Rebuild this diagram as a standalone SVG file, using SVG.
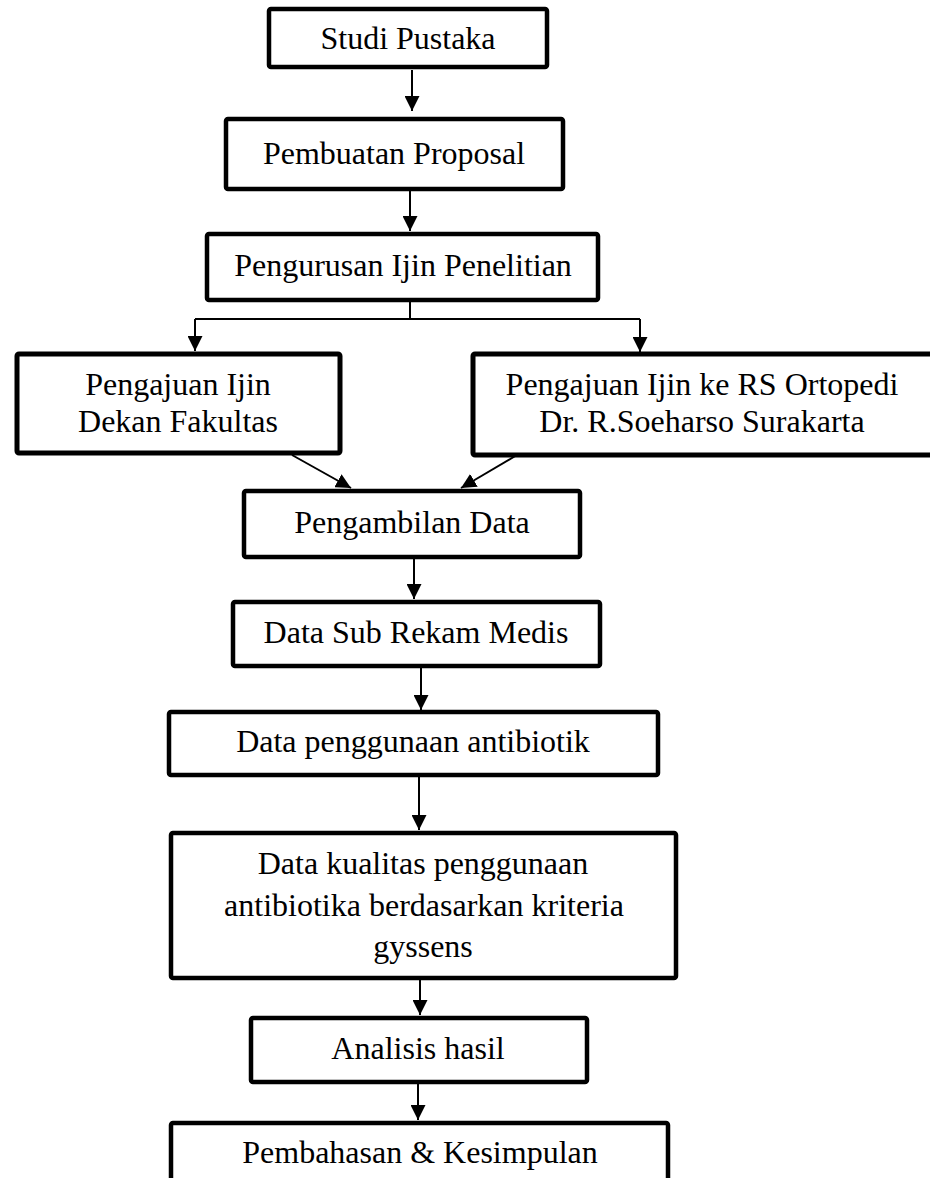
<svg xmlns="http://www.w3.org/2000/svg" width="930" height="1178" viewBox="0 0 930 1178">
  <style>
    .box { fill: #ffffff; stroke: #000000; stroke-width: 4.5; stroke-linejoin: round; }
    .thick { stroke-width: 5; }
    .lbl { font-family: "Liberation Serif", "Times New Roman", serif; font-size: 32px; fill: #000000; text-anchor: middle; }
    .con { fill: none; stroke: #000000; stroke-width: 2; }
  </style>
  <defs>
    <marker id="ah" markerUnits="userSpaceOnUse" markerWidth="15" markerHeight="15" refX="15" refY="7.5" orient="auto">
      <path d="M0,0 L15,7.5 L0,15 z" fill="#000000"/>
    </marker>
  </defs>
  <rect width="930" height="1178" fill="#ffffff"/>

  <g id="connectors">
    <path class="con" d="M412,70 V111" marker-end="url(#ah)"/>
    <path class="con" d="M410,191 V231" marker-end="url(#ah)"/>
    <path class="con" d="M410,300 V319"/>
    <path class="con" d="M195,319 H640"/>
    <path class="con" d="M195,319 V351" marker-end="url(#ah)"/>
    <path class="con" d="M640,319 V352" marker-end="url(#ah)"/>
    <path class="con" d="M292,455 L351,488" marker-end="url(#ah)"/>
    <path class="con" d="M517,455 L461,488" marker-end="url(#ah)"/>
    <path class="con" d="M414,559 V599" marker-end="url(#ah)"/>
    <path class="con" d="M421,668 V710" marker-end="url(#ah)"/>
    <path class="con" d="M419,777 V830" marker-end="url(#ah)"/>
    <path class="con" d="M420,980 V1015" marker-end="url(#ah)"/>
    <path class="con" d="M418,1084 V1120" marker-end="url(#ah)"/>
  </g>

  <g id="n1">
    <rect class="box" x="269" y="9" width="278" height="58" rx="2"/>
    <text class="lbl" x="408" y="49">Studi Pustaka</text>
  </g>
  <g id="n2">
    <rect class="box" x="226" y="119" width="337" height="70" rx="2"/>
    <text class="lbl" x="394" y="164">Pembuatan Proposal</text>
  </g>
  <g id="n3">
    <rect class="box" x="207" y="234" width="391" height="66" rx="2"/>
    <text class="lbl" x="403" y="276">Pengurusan Ijin Penelitian</text>
  </g>
  <g id="n4">
    <rect class="box thick" x="17" y="354" width="323" height="99" rx="2"/>
    <text class="lbl" x="178" y="395">Pengajuan Ijin</text>
    <text class="lbl" x="178" y="432">Dekan Fakultas</text>
  </g>
  <g id="n5">
    <rect class="box thick" x="473" y="354" width="462" height="101" rx="2"/>
    <text class="lbl" x="702" y="395">Pengajuan Ijin ke RS Ortopedi</text>
    <text class="lbl" x="702" y="432">Dr. R.Soeharso Surakarta</text>
  </g>
  <g id="n6">
    <rect class="box" x="244" y="491" width="336" height="66" rx="2"/>
    <text class="lbl" x="412" y="533">Pengambilan Data</text>
  </g>
  <g id="n7">
    <rect class="box" x="233" y="602" width="367" height="64" rx="2"/>
    <text class="lbl" x="416" y="643">Data Sub Rekam Medis</text>
  </g>
  <g id="n8">
    <rect class="box" x="169" y="712" width="489" height="63" rx="2"/>
    <text class="lbl" x="413" y="752">Data penggunaan antibiotik</text>
  </g>
  <g id="n9">
    <rect class="box" x="171" y="833" width="505" height="145" rx="2"/>
    <text class="lbl" x="423" y="874">Data kualitas penggunaan</text>
    <text class="lbl" x="424" y="916">antibiotika berdasarkan kriteria</text>
    <text class="lbl" x="423" y="957">gyssens</text>
  </g>
  <g id="n10">
    <rect class="box" x="251" y="1018" width="336" height="64" rx="2"/>
    <text class="lbl" x="418" y="1059">Analisis hasil</text>
  </g>
  <g id="n11">
    <rect class="box" x="171" y="1123" width="497" height="80" rx="2"/>
    <text class="lbl" x="420" y="1163">Pembahasan &amp; Kesimpulan</text>
  </g>
</svg>
